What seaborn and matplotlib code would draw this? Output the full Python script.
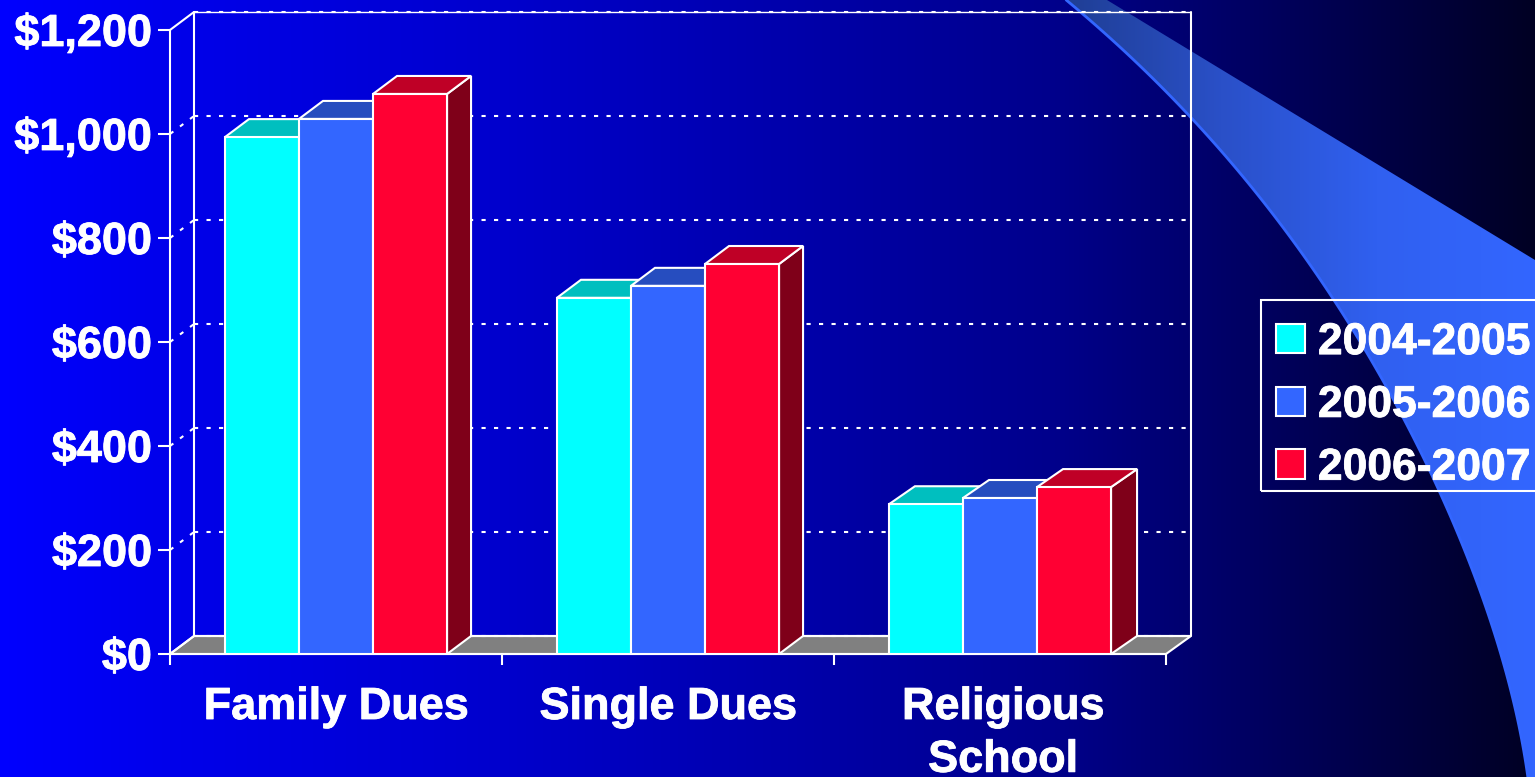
import numpy as np
import pandas as pd
import matplotlib
matplotlib.use("Agg")
import matplotlib.pyplot as plt
import matplotlib.patheffects as pe
from matplotlib.patches import Polygon, Rectangle
from matplotlib.transforms import Affine2D
from matplotlib.colors import LinearSegmentedColormap
import seaborn as sns

categories = ["Family Dues", "Single Dues", "Religious\nSchool"]
years = ["2004-2005", "2005-2006", "2006-2007"]
dues_2004 = [994, 685, 288]
dues_2005 = [1029, 708, 300]
dues_2006 = [1077, 750, 321]
y_ticks = [0, 200, 400, 600, 800, 1000, 1200]

W, H = 1535, 777
FONT = "Liberation Sans"
FS = 32
TICK_FS = 32.4
PX = 0.72  # points per pixel at 100 dpi
front = ["#00FFFF", "#3366FF", "#FF0033"]
top = ["#00BFBF", "#264DBF", "#BF0026"]
side = ["#007F7F", "#19337F", "#7F0019"]
DOTS = (0, (2, 4))
HEAVY = [pe.withStroke(linewidth=0.6, foreground="white")]

sns.set_theme(style="white")
plt.rcParams["font.family"] = [FONT, "DejaVu Sans"]
plt.rcParams["font.weight"] = "bold"

fig = plt.figure(figsize=(W / 100, H / 100), dpi=100)

# Slide background: horizontal blue-to-black gradient and the swoosh
bg = fig.add_axes([0, 0, 1, 1], zorder=-1)
bg.set_xlim(0, W)
bg.set_ylim(H, 0)
bg.axis("off")
px = np.arange(W)
blue = np.interp(px, [0, 170, 500, 1050, 1240, 1535], [255, 235, 205, 140, 100, 35]) / 255
grad = np.zeros((2, W, 3))
grad[:, :, 2] = blue
bg.imshow(grad, extent=(0, W, H, 0), aspect="auto", interpolation="bilinear", zorder=0)

cy = np.array([0, 13, 117, 200, 280, 300, 450, 491, 583, 663, 777])
cx = np.array([1065, 1083, 1190, 1263, 1320, 1333, 1420, 1440, 1477, 1503, 1528])
fit = np.polyfit(cy, cx, 4)
ys = np.linspace(0, H, 120)
xs = np.polyval(fit, ys)
outline = np.vstack([np.column_stack([xs, ys]), [[W, H], [W, 260], [1107, 0]]])
clip = Polygon(outline, closed=True, transform=bg.transData, facecolor="none", edgecolor="none")
bg.add_patch(clip)
cmap = LinearSegmentedColormap.from_list("sw", ["#1F3E94", "#2A50C8", "#3060F0", "#3366FF"])
im = bg.imshow(np.linspace(0, 1, 470)[None, :], extent=(1065, W, H, 0), aspect="auto",
               cmap=cmap, zorder=1)
im.set_clip_path(clip)
bg.plot(xs, ys, color="#3366FF", lw=2, zorder=2)
bg.set_xlim(0, W)
bg.set_ylim(H, 0)

# Chart
ax = fig.add_axes([170 / W, 1 - 654 / H, (1166 - 170) / W, (654 - 30) / H])
ax.patch.set_alpha(0)
df = pd.DataFrame({
    "category": categories * 3,
    "year": np.repeat(years, 3),
    "value": dues_2004 + dues_2005 + dues_2006,
})
sns.barplot(data=df, x="category", y="value", hue="year", palette=front, saturation=1,
            width=0.669, gap=0, edgecolor="white", linewidth=1.5, ax=ax)
ax.set_xlim(-0.5, 2.5)
ax.set_ylim(0, 1200)
ax.set_xlabel("")
ax.set_ylabel("")
sns.despine(ax=ax)
for s in ("left", "bottom"):
    ax.spines[s].set_color("white")
    ax.spines[s].set_linewidth(1.5)

DX, DY = 24, 18
LW = 1.5
off = ax.transData + Affine2D().translate(DX, DY)


def shift(x, y, dx=DX, dy=DY):
    p = ax.transData.transform((x, y))
    return (p[0] + dx, p[1] + dy)


# Floor
ax.add_patch(Polygon([shift(-0.5, 0, 0, 0), shift(2.5, 0, 0, 0), shift(2.5, 0, 25, DY), shift(-0.5, 0, DX, DY)],
                     closed=True, transform=None, facecolor="#808080", edgecolor="white",
                     lw=LW, zorder=1, clip_on=False))
# Back wall
ax.plot([-0.5, -0.5], [0, 1200], transform=off, color="white", lw=LW, clip_on=False, zorder=1.1)
ax.plot([2.5, 2.5], [0, 1200], transform=ax.transData + Affine2D().translate(25, DY),
        color="white", lw=LW, clip_on=False, zorder=1.1)
ax.plot([-0.5, 2.5], [1200, 1200], transform=off, color="white", lw=1, clip_on=False, zorder=1.1)
ax.plot([-0.5, 2.5], [0, 0], transform=off, color="white", lw=LW, clip_on=False, zorder=1.1)
# Gridlines on back wall and dotted connectors on the side wall
for v in y_ticks:
    ax.plot([-0.5, 2.5], [v, v], transform=off, color="white", lw=LW, ls=DOTS,
            clip_on=False, zorder=1.2)
    if v not in (0, 1200):
        a, b = shift(-0.5, v, 0, 0), shift(-0.5, v)
        ax.plot([a[0], b[0]], [a[1], b[1]], transform=None, color="white", lw=LW,
                ls=DOTS, clip_on=False, zorder=1.2)
for v in (0, 1200):
    a, b = shift(-0.5, v, 0, 0), shift(-0.5, v)
    ax.plot([a[0], b[0]], [a[1], b[1]], transform=None, color="white", lw=LW,
            clip_on=False, zorder=1.2)

# 3-D faces of each bar, built from the bars seaborn drew
bars = [p for p in ax.patches if isinstance(p, Rectangle) and p.get_height() > 0
        and p.get_width() < 0.5]
order = sorted(range(len(bars)), key=lambda i: bars[i].get_x())
n_cat = len(categories)
for rank, i in enumerate(order):
    b = bars[i]
    s = i // n_cat
    group = rank // len(years)
    dx = 26 if group == 2 else DX
    x0, x1, h = b.get_x(), b.get_x() + b.get_width(), b.get_height()
    z = 3 + rank
    b.set_zorder(z + 0.5)
    b.set_linewidth(LW)
    ax.add_patch(Polygon([shift(x1, 0, 0, 0), shift(x1, h, 0, 0), shift(x1, h, dx, DY), shift(x1, 0, dx, DY)],
                         closed=True, transform=None, facecolor=side[s], edgecolor="white",
                         lw=LW, zorder=z, clip_on=False))
    ax.add_patch(Polygon([shift(x0, h, 0, 0), shift(x1, h, 0, 0), shift(x1, h, dx, DY), shift(x0, h, dx, DY)],
                         closed=True, transform=None, facecolor=top[s], edgecolor="white",
                         lw=LW, zorder=z + 0.2, clip_on=False))

# Axes ticks and labels
ax.set_yticks(y_ticks)
ax.set_yticklabels([f"${v:,}" for v in y_ticks], fontsize=TICK_FS, fontweight="bold", color="white", family=FONT)
ax.tick_params(axis="y", length=12 * PX, width=LW, color="white", pad=6 * PX, left=True)
ax.set_xticks(range(len(categories)))
ax.set_xticklabels(categories, fontsize=TICK_FS, fontweight="bold", color="white", family=FONT, linespacing=1.37)
ax.tick_params(axis="x", which="major", length=0, pad=33 * PX)
ax.set_xticks([-0.5, 0.5, 1.5, 2.5], minor=True)
ax.tick_params(axis="x", which="minor", length=11 * PX, width=LW, color="white", bottom=True)
for t in ax.get_xticklabels() + ax.get_yticklabels():
    t.set_path_effects(HEAVY)
rel = ax.get_xticklabels()[2]
rel.set_transform(rel.get_transform() + Affine2D().translate(3, 0))

# Legend: entries drawn without a frame, the box (running past the slide edge) added separately
handles, labels = ax.get_legend_handles_labels()
leg = ax.legend(handles, labels, loc="upper left", bbox_to_anchor=(1261 / W, 1 - 307 / H),
                bbox_transform=fig.transFigure, frameon=False, borderaxespad=0, borderpad=0.34,
                prop={"family": FONT, "weight": "bold", "size": FS},
                handlelength=0.65, handleheight=0.63, handletextpad=0.29, labelspacing=0.49)
for t in leg.get_texts():
    t.set_color("white")
    t.set_path_effects(HEAVY)
leg.set_zorder(50)
for h in leg.legend_handles:
    h.set_edgecolor("white")
    h.set_linewidth(LW)
fig.add_artist(Rectangle((1261 / W, 1 - 491 / H), 290 / W, 191 / H, transform=fig.transFigure,
                         facecolor="none", edgecolor="white", lw=LW))

fig.savefig("out.png", dpi=100, facecolor="#000080")
